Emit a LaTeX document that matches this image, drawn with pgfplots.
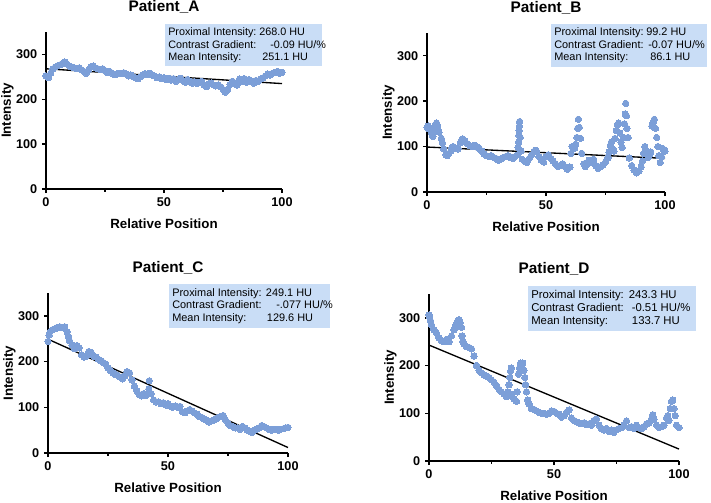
\documentclass[border=0pt]{standalone}
\usepackage{fontspec}
\setmainfont{Liberation Sans}
\usepackage{pgfplots}
\usepackage{pgfplotstable}
\pgfplotsset{compat=1.18}
\definecolor{ptblue}{HTML}{7C9FD8}
\definecolor{boxblue}{HTML}{C9DDF6}

\pgfplotstableread{
x y
0 252
1 248
2 258
3 268
4 272
5 275
6 277
7 280
8 283
9 278
10 274
11 272
12 270
13 268
14 270
15 266
16 262
17 258
18 265
19 272
20 274
21 270
22 268
23 266
24 268
25 264
26 260
27 262
28 258
29 255
30 256
31 258
32 257
33 259
34 256
35 252
36 254
37 250
38 248
39 246
40 250
41 254
42 257
43 256
44 258
45 254
46 252
47 248
48 250
49 246
50 248
51 244
52 247
53 243
54 246
55 240
56 244
57 247
58 242
59 238
60 244
61 240
62 236
63 239
64 235
65 238
66 240
67 232
68 228
69 234
70 236
71 232
72 230
73 232
74 228
75 222
76 216
77 222
78 233
79 240
80 236
81 232
82 245
83 240
84 246
85 238
86 244
87 240
88 236
89 242
90 240
91 245
92 248
93 252
94 256
95 254
96 258
97 260
98 262
99 258
100 260
}\dataA

\pgfplotstableread{
x y
0 142
0.5 145
1 138
1.5 140
2 128
2.5 122
3 135
3.5 148
4 152
4.5 145
5 132
6 118
6.5 108
7 95
8 82
8.5 80
9 84
10 90
10.5 98
11 100
12 96
13 95
14 108
14.5 114
15 117
16 112
17 106
18 102
19 100
20 103
21 100
22 96
23 90
24 84
25 80
26 78
27 80
28 76
29 74
30 70
31 72
32 76
33 78
34 80
35 76
36 74
37 78
38 82
38.3 98
38.5 110
38.6 125
38.7 135
38.8 145
38.9 155
39.2 120
39.5 90
40 72
41 68
42 65
43 74
44 82
45 88
45.5 92
46 90
47 78
48 70
49 66
50 78
51 82
52 74
53 68
54 62
55 56
56 58
57 62
58 56
59 50
60 55
60.5 85
61 100
62 96
62.5 105
63 120
63.3 140
63.6 160
64 142
64.5 118
65 85
66 62
66.5 56
67 60
68 70
69 66
70 72
71 58
72 52
73 56
74 60
75 66
76 75
76.5 88
77 102
77.5 110
78 95
78.5 90
79 118
79.5 135
80 148
80.5 152
81 130
81.5 110
82 98
82.5 120
83 150
83.3 172
83.5 195
83.8 168
84 140
84.5 120
85 75
86 58
87 48
88 42
89 46
90 55
90.5 68
91 85
91.5 100
92 90
93 76
93.5 82
94 88
94.5 145
95 152
95.5 160
96 140
96.5 120
97 100
97.5 80
98 65
98.5 78
99 96
99.5 92
100 90
}\dataB

\pgfplotstableread{
x y
0 244
0.5 258
1 266
2 270
3 272
4 275
5 276
6 274
7 276
8 265
8.5 255
9 245
10 236
11 228
12 235
13 230
14 215
15 210
16 212
17 222
18 220
19 212
20 210
21 205
22 202
23 198
24 195
25 186
26 180
27 176
28 172
29 170
30 166
31 162
32 168
33 178
34 175
35 160
36 146
37 136
38 128
39 125
40 130
41 126
42 140
42.2 158
43 130
44 116
45 112
46 112
47 108
48 110
49 105
50 108
51 102
52 100
53 103
54 100
55 102
56 90
57 88
58 92
59 95
60 92
61 88
62 85
63 80
64 78
65 75
66 72
67 68
68 70
69 72
70 75
71 78
72 80
73 82
74 72
75 65
76 60
77 58
78 55
79 55
80 52
81 58
82 55
83 50
84 48
85 45
86 50
87 52
88 55
89 60
90 58
91 55
92 52
93 50
94 52
95 52
96 50
97 52
98 53
99 55
100 56
}\dataC

\pgfplotstableread{
x y
0 306
0.3 300
0.6 294
1 285
2 275
3 268
4 258
5 252
6 250
7 255
8 250
9 262
10 275
10.5 282
11 288
11.5 294
12 296
12.5 290
13 280
13.2 262
13.5 250
14 245
15 240
16 238
17 235
18 220
19 200
20 190
21 185
22 180
23 178
24 175
25 170
26 165
27 158
28 150
29 145
30 140
31 135
31.5 145
32 160
32.3 175
32.6 188
32.9 195
33 140
34 130
35 125
35.3 145
35.8 182
36.2 195
36.6 205
37 200
37.5 205
38 190
38.3 175
38.6 160
39 145
39.5 128
40 120
41 110
42 108
43 105
44 102
45 100
46 100
47 98
48 100
49 105
50 104
51 100
52 98
53 92
54 95
55 102
56 107
57 90
58 85
59 82
60 80
61 78
62 80
63 76
64 78
65 75
66 85
67 88
68 75
69 68
70 65
71 68
72 62
73 65
74 60
75 65
76 68
77 70
78 75
79 84
80 70
81 72
82 68
83 75
84 70
85 68
86 72
87 78
88 80
89 88
89.5 97
90 88
91 75
92 70
93 72
94 75
95 90
95.5 95
96 85
96.5 110
97 125
97.5 128
98 110
98.5 95
99 75
100 70
}\dataD

\pgfplotsset{panel/.style={
  scale only axis, anchor=south west,
  xmin=0, xmax=100, ymin=0, ymax=350,
  axis x line=bottom, axis y line=left,
  axis line style={line width=1.1pt,-},
  xtick={0,50,100}, minor xtick={25,75}, ytick={0,100,200,300},
  tick align=outside, major tick length=3pt, minor tick length=2pt,
  tick style={line width=1.1pt,black},
  /pgf/number format/assume math mode=true,
  tick label style={font=\bfseries\fontsize{9.5}{11}\selectfont},
  xlabel={Relative Position}, ylabel={Intensity},
  label style={font=\bfseries\fontsize{10}{12}\selectfont},
  xlabel style={at={(axis description cs:0.5,0)}, anchor=base, yshift=-29.5pt},
  ylabel style={at={(axis description cs:0,0.5)}, anchor=base, rotate=0, yshift=26.3pt},
  title style={at={(axis description cs:0.5,1)}, anchor=base, yshift=9.5pt, font=\bfseries\fontsize{11.5}{13}\selectfont},
  clip=false,
}}
\tikzset{dots/.style={only marks, mark=*, mark size=2.4pt, mark options={fill=ptblue, draw=ptblue, line width=0pt}},
  fitline/.style={black, line width=1pt, no marks}}

\begin{document}
\begin{tikzpicture}
\begin{axis}[panel, at={(34.5pt,-141.75pt)}, width=177pt, height=117.75pt, title={Patient\_A}]
\addplot[dots] table[x=x,y=y] {\dataA};
\addplot[fitline] coordinates {(0,268) (100,235)};
\end{axis}
\begin{axis}[panel, at={(320.25pt,-144pt)}, width=178.5pt, height=119.25pt, title={Patient\_B}]
\addplot[dots] table[x=x,y=y] {\dataB};
\addplot[fitline] coordinates {(0,99) (100,74)};
\end{axis}
\begin{axis}[panel, at={(36pt,-339.75pt)}, width=180pt, height=120pt, title={Patient\_C}]
\addplot[dots] table[x=x,y=y] {\dataC};
\addplot[fitline] coordinates {(0,249) (100,12)};
\end{axis}
\begin{axis}[panel, at={(321.75pt,-345.75pt)}, width=187.5pt, height=125.25pt, title={Patient\_D}]
\addplot[dots] table[x=x,y=y] {\dataD};
\addplot[fitline] coordinates {(0,243) (100,25)};
\end{axis}
\begin{scope}[x=0.75pt, y=-0.75pt]
% box A
\fill[boxblue] (165,24) rectangle (322,66);
\begin{scope}[every node/.style={anchor=base west, inner sep=0pt, font=\fontsize{8.1}{9}\selectfont}]
\node at (168,36) {Proximal Intensity:};
\node at (259,36) {268.0 HU};
\node at (168,48.3) {Contrast Gradient:};
\node at (270,48.3) {-0.09 HU/\%};
\node at (168,60.5) {Mean Intensity:};
\node at (262,60.5) {251.1 HU};
\end{scope}
% box B
\fill[boxblue] (551,24) rectangle (707,67);
\begin{scope}[every node/.style={anchor=base west, inner sep=0pt, font=\fontsize{8.2}{9}\selectfont}]
\node at (554,36) {Proximal Intensity:};
\node at (646,36) {99.2 HU};
\node at (554,48.5) {Contrast Gradient:};
\node at (648,48.5) {-0.07 HU/\%};
\node at (554,61) {Mean Intensity:};
\node at (650,61) {86.1 HU};
\end{scope}
% box C
\fill[boxblue] (169,284) rectangle (330,328);
\begin{scope}[every node/.style={anchor=base west, inner sep=0pt, font=\fontsize{8.2}{9}\selectfont}]
\node at (172,296.7) {Proximal Intensity:};
\node at (265.7,296.7) {249.1 HU};
\node at (172,308.8) {Contrast Gradient:};
\node at (276,308.8) {-.077 HU/\%};
\node at (172,321) {Mean Intensity:};
\node at (266.7,321) {129.6 HU};
\end{scope}
% box D
\fill[boxblue] (528,286) rectangle (696,331);
\begin{scope}[every node/.style={anchor=base west, inner sep=0pt, font=\fontsize{8.5}{10}\selectfont}]
\node at (531,298.3) {Proximal Intensity:};
\node at (628.5,298.3) {243.3 HU};
\node at (531,311.5) {Contrast Gradient:};
\node at (631.5,311.5) {-0.51 HU/\%};
\node at (531,324) {Mean Intensity:};
\node at (631.7,324) {133.7 HU};
\end{scope}
\pgfresetboundingbox
\path[use as bounding box] (0,0) rectangle (711,503);
\end{scope}
\end{tikzpicture}
\end{document}
